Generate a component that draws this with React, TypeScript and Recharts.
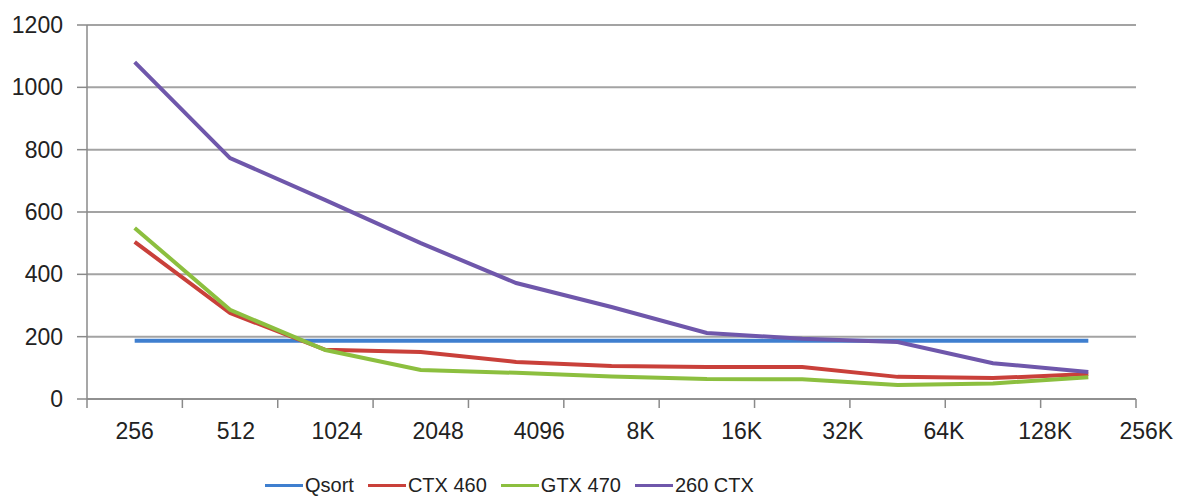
import React from 'react';
import { CartesianGrid, Legend, Line, LineChart, XAxis, YAxis } from 'recharts';

const categories = ['256', '512', '1024', '2048', '4096', '8K', '16K', '32K', '64K', '128K', '256K'];
const qsort = [187, 187, 187, 187, 187, 187, 187, 187, 187, 187, 187];
const ctx460 = [504, 276, 158, 151, 119, 106, 103, 103, 71, 67, 80];
const gtx470 = [549, 286, 157, 93, 84, 72, 64, 63, 45, 50, 70];
const ctx260 = [1081, 773, 638, 500, 372, 295, 212, 193, 183, 115, 87];
const yTicks = [0, 200, 400, 600, 800, 1000, 1200];

const series = [
    { key: 'qsort', name: 'Qsort', color: '#3f7fcf' },
    { key: 'ctx460', name: 'CTX 460', color: '#c9403a' },
    { key: 'gtx470', name: 'GTX 470', color: '#8cbf3f' },
    { key: 'ctx260', name: '260 CTX', color: '#6f57ab' },
];

const data = categories.map((c, i) => ({
    cat: c,
    qsort: qsort[i],
    ctx460: ctx460[i],
    gtx470: gtx470[i],
    ctx260: ctx260[i],
}));

const PLOT_W = 1049;
const HALF = PLOT_W / categories.length / 2;
const FONT = '"Liberation Sans", Arial, sans-serif';

const XTick = (props: any) => {
    const { x, y, payload, index } = props;
    const last = index === categories.length - 1;
    return (
        <g>
            <line x1={x - HALF} x2={x - HALF} y1={y - 8} y2={y + 1} stroke="#8a8a8a" strokeWidth={1.5} />
            {last && <line x1={x + HALF} x2={x + HALF} y1={y - 8} y2={y + 1} stroke="#8a8a8a" strokeWidth={1.5} />}
            <text x={x + index * 5.8} y={y + 32} textAnchor="middle" fontSize={23} fill="#222" fontFamily={FONT}>
                {payload.value}
            </text>
        </g>
    );
};

const LegendBox = () => (
    <div style={{ display: 'flex', alignItems: 'center', fontFamily: FONT, fontSize: 20, color: '#222', height: 30 }}>
        {series.map((s) => (
            <div key={s.key} style={{ display: 'flex', alignItems: 'center', marginRight: 14 }}>
                <span style={{ display: 'inline-block', width: 38, height: 3, background: s.color, marginRight: 2 }} />
                <span>{s.name}</span>
            </div>
        ))}
    </div>
);

export default function App() {
    return (
        <div style={{ position: 'absolute', left: 0, top: 0, background: '#fff' }}>
            <LineChart width={1180} height={498} data={data} margin={{ top: 25, right: 44, left: 0, bottom: 19 }}>
                <CartesianGrid vertical={false} stroke="#a3a3a3" strokeWidth={2} />
                <XAxis
                    dataKey="cat"
                    padding={{ left: HALF, right: HALF }}
                    axisLine={{ stroke: '#8a8a8a', strokeWidth: 1.5 }}
                    tickLine={false}
                    tick={<XTick />}
                    interval={0}
                    height={50}
                />
                <YAxis
                    domain={[0, 1200]}
                    ticks={yTicks}
                    width={87}
                    tickSize={10}
                    tickMargin={14}
                    axisLine={{ stroke: '#8a8a8a', strokeWidth: 1.5 }}
                    tickLine={{ stroke: '#8a8a8a', strokeWidth: 1.5 }}
                    tick={{ fontSize: 23, fill: '#222', fontFamily: FONT }}
                />
                <Legend
                    verticalAlign="bottom"
                    content={<LegendBox />}
                    wrapperStyle={{ left: 265, top: 470, bottom: 'auto', width: 520, height: 30 }}
                />
                {series.map((s) => (
                    <Line
                        key={s.key}
                        type="linear"
                        dataKey={s.key}
                        name={s.name}
                        stroke={s.color}
                        strokeWidth={4}
                        dot={false}
                        isAnimationActive={false}
                    />
                ))}
            </LineChart>
        </div>
    );
}
